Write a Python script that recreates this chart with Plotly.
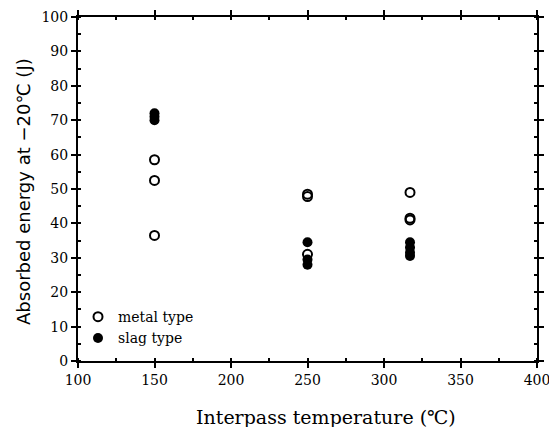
import plotly.graph_objects as go

metal_x = [150, 150, 150, 250, 250, 250, 317, 317, 317]
metal_y = [58.5, 52.5, 36.5, 48.5, 47.8, 31.0, 49.0, 41.5, 41.0]
slag_x = [150, 150, 150, 250, 250, 250, 317, 317, 317, 317]
slag_y = [72.0, 71.0, 70.0, 34.5, 29.5, 28.0, 34.5, 33.0, 31.5, 30.5]

x_ticks = [100, 150, 200, 250, 300, 350, 400]
y_ticks = [0, 10, 20, 30, 40, 50, 60, 70, 80, 90, 100]

x_title = "Interpass temperature (℃)"
y_title = "Absorbed energy at −20℃ (J)"

serif = "'DejaVu Serif', 'Liberation Serif', serif"
sans = "'DejaVu Sans', 'Noto Sans', sans-serif"

fig = go.Figure()
fig.add_trace(go.Scatter(
    x=metal_x, y=metal_y, mode="markers", name="metal type",
    marker=dict(symbol="circle-open", size=9, color="black", line=dict(width=2, color="black")),
))
fig.add_trace(go.Scatter(
    x=slag_x, y=slag_y, mode="markers", name="slag type",
    marker=dict(symbol="circle", size=10, color="black"),
))

# page has an 8px body margin, so the figure is 8px smaller and margins shifted
fig.update_layout(
    width=549, height=419,
    margin=dict(l=70, r=20, t=9, b=66, autoexpand=False),
    paper_bgcolor="white", plot_bgcolor="white",
    font=dict(family=serif, color="black", size=14),
    legend=dict(x=0.0, y=0.02, xanchor="left", yanchor="bottom",
                bgcolor="rgba(0,0,0,0)", font=dict(family=serif, size=14),
                itemwidth=30, tracegroupgap=3),
    showlegend=True,
    annotations=[
        dict(text=x_title, xref="paper", yref="paper", x=0.54, y=-0.162,
             xanchor="center", yanchor="middle", showarrow=False,
             font=dict(family=serif, size=19, color="black")),
        dict(text=y_title, xref="paper", yref="paper", x=-0.12, y=0.494,
             xanchor="center", yanchor="middle", showarrow=False, textangle=-90,
             font=dict(family=sans, size=18, color="black")),
    ],
)
fig.update_xaxes(
    range=[100, 400], tickvals=x_ticks, ticktext=[str(v) for v in x_ticks],
    showgrid=False, zeroline=False, showline=True, linecolor="black", linewidth=2,
    mirror="ticks", ticks="outside", ticklen=5, tickwidth=1.5, tickcolor="black",
    minor=dict(dtick=25, ticks="inside", ticklen=3, tickcolor="black"),
    tickfont=dict(family=serif, size=14), automargin=False, ticklabeloverflow="allow",
)
fig.update_yaxes(
    range=[0, 100], tickvals=y_ticks, ticktext=[str(v) for v in y_ticks],
    showgrid=False, zeroline=False, showline=True, linecolor="black", linewidth=2,
    mirror="ticks", ticks="outside", ticklen=5, tickwidth=1.5, tickcolor="black",
    minor=dict(dtick=5, ticks="inside", ticklen=3, tickcolor="black"),
    tickfont=dict(family=serif, size=14), automargin=False, ticklabeloverflow="allow",
)

fig.write_html("out.html")
